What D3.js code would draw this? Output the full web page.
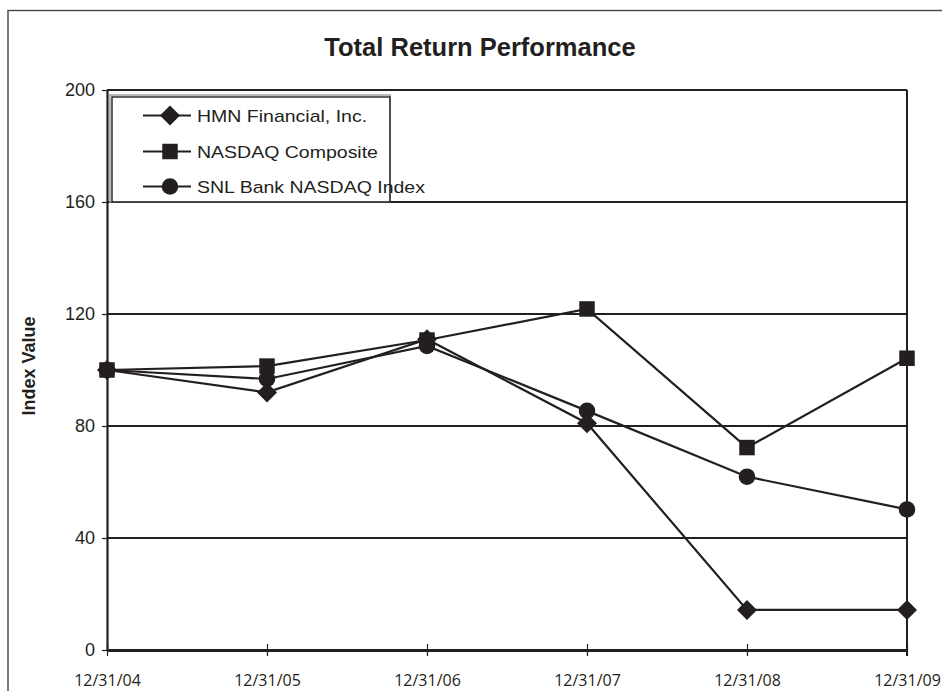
<!DOCTYPE html>
<html><head><meta charset="utf-8">
<script src="https://cdn.jsdelivr.net/npm/d3@7"></script>
<style>body{margin:0;background:#fff}svg{display:block}</style>
</head><body>
<svg id="c" width="942" height="691"></svg>
<script>
const categories = ["12/31/04","12/31/05","12/31/06","12/31/07","12/31/08","12/31/09"];
const hmn = [100, 92, 111, 81, 14.3, 14.3];
const nasdaq = [100, 101.4, 110.7, 121.8, 72.3, 104.2];
const snl = [100, 96.8, 108.6, 85.4, 61.9, 50.2];
const seriesNames = ["HMN Financial, Inc.", "NASDAQ Composite", "SNL Bank NASDAQ Index"];
const seriesShapes = ["diamond", "square", "circle"];
const yTicks = [0, 40, 80, 120, 160, 200];

const ink = "#231f20";
const svg = d3.select("#c");
const L = 107, R = 907, T = 90, B = 650;
const x = d3.scalePoint().domain(categories).range([L, R]).padding(0);
const y = d3.scaleLinear().domain([0, 200]).range([B, T]);
const sans = "Liberation Sans, Arial, sans-serif";

// outer frame
svg.append("rect").attr("x",8).attr("y",10.5).attr("width",960).attr("height",720)
  .attr("fill","none").attr("stroke","#444").attr("stroke-width",1.4);

// title
svg.append("text").attr("x",480).attr("y",56).attr("text-anchor","middle")
  .attr("font-family",sans).attr("font-weight","bold")
  .attr("font-size",25.5).attr("fill",ink).text("Total Return Performance");

// gridlines
svg.append("g").selectAll("line").data(yTicks.filter(d=>d>0)).join("line")
  .attr("x1",L).attr("x2",R).attr("y1",d=>y(d)).attr("y2",d=>y(d))
  .attr("stroke",ink).attr("stroke-width",2);
// right border
svg.append("line").attr("x1",R).attr("x2",R).attr("y1",T).attr("y2",B+6)
  .attr("stroke",ink).attr("stroke-width",2);

// y axis
const ya = svg.append("g").attr("transform",`translate(${L},0)`)
  .call(d3.axisLeft(y).tickValues(yTicks).tickSize(5).tickSizeOuter(0).tickPadding(7));
ya.select(".domain").attr("stroke",ink).attr("stroke-width",2.2);
ya.selectAll(".tick line").attr("stroke",ink).attr("stroke-width",1.2);
ya.selectAll("text").attr("font-family",sans)
  .attr("font-size",18).attr("fill",ink);

// x axis
const xa = svg.append("g").attr("transform",`translate(0,${B})`)
  .call(d3.axisBottom(x).tickSize(6).tickSizeOuter(0).tickPadding(22));
xa.select(".domain").attr("stroke",ink).attr("stroke-width",3);
xa.selectAll(".tick line").attr("stroke",ink).attr("stroke-width",1.2).attr("y1",-6);
xa.selectAll("text").attr("font-family","Open Sans, sans-serif")
  .attr("font-size",16).attr("fill",ink).attr("dy",null).attr("y",36)
  .attr("dominant-baseline","alphabetic");

// y axis title
svg.append("text").attr("transform",`translate(35,366) rotate(-90)`)
  .attr("text-anchor","middle").attr("font-family",sans)
  .attr("font-weight","bold").attr("font-size",18).attr("fill",ink).text("Index Value");

function markerPath(shape){
  if(shape==="diamond") return d3.symbol().type(d3.symbolSquare).size(200)();
  if(shape==="square") return d3.symbol().type(d3.symbolSquare).size(240)();
  return d3.symbol().type(d3.symbolCircle).size(215)();
}
function markerRot(shape){ return shape==="diamond" ? " rotate(45)" : ""; }

const allSeries = [hmn, nasdaq, snl];
const line = d3.line().x((d,i)=>x(categories[i])).y(d=>y(d));
allSeries.forEach((vals)=>{
  svg.append("path").attr("d", line(vals)).attr("fill","none")
    .attr("stroke",ink).attr("stroke-width",2.2);
});
allSeries.forEach((vals, si)=>{
  const shape = seriesShapes[si];
  svg.append("g").selectAll("path").data(vals).join("path")
    .attr("fill",ink)
    .attr("d", markerPath(shape))
    .attr("transform",(d,i)=>`translate(${x(categories[i])},${y(d)})` + markerRot(shape));
});

// legend
const lg = svg.append("g");
lg.append("rect").attr("x",110).attr("y",95).attr("width",280).attr("height",107)
  .attr("fill","#fff").attr("stroke","#999").attr("stroke-width",1.4);
lg.append("rect").attr("x",112).attr("y",97).attr("width",278).attr("height",105)
  .attr("fill","none").attr("stroke",ink).attr("stroke-width",1.4);
const ly = [115.5, 151.5, 186.5];
seriesNames.forEach((n,i)=>{
  lg.append("line").attr("x1",143).attr("x2",191).attr("y1",ly[i]).attr("y2",ly[i])
    .attr("stroke",ink).attr("stroke-width",2.2);
  const shape = seriesShapes[i];
  lg.append("path").attr("fill",ink)
    .attr("d", markerPath(shape))
    .attr("transform",`translate(170,${ly[i]})` + markerRot(shape));
  lg.append("text").attr("transform",`translate(197,${ly[i]+6}) scale(1.22,1)`)
    .attr("font-family",sans).attr("font-size",16)
    .attr("fill",ink).text(n);
});
</script>
</body></html>
